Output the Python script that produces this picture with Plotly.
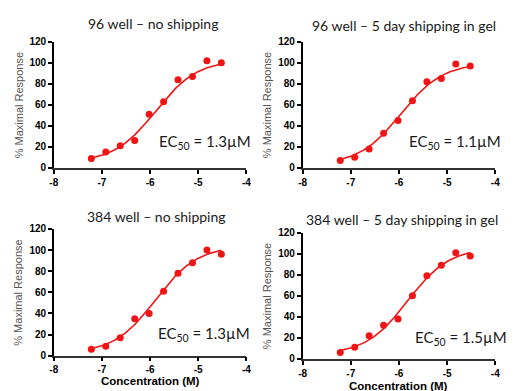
import plotly.graph_objects as go
import numpy as np

# ---- data ----
log_conc = [-7.22, -6.92, -6.62, -6.32, -6.02, -5.72, -5.42, -5.12, -4.82, -4.52]

resp_96_none = [9, 15, 21, 26, 51, 63, 84, 87, 102, 100]
resp_96_gel = [7, 10, 18, 33, 45, 64, 82, 85, 99, 97]
resp_384_none = [6, 9, 17, 35, 40, 61, 78, 88, 100, 96]
resp_384_gel = [6, 11, 22, 32, 38, 60, 79, 89, 101, 98]

titles = ["96 well – no shipping", "96 well – 5 day shipping in gel",
          "384 well – no shipping", "384 well – 5 day shipping in gel"]
ec50_um = [1.3, 1.1, 1.3, 1.5]
# fitted 4-parameter logistic: bottom, top, hill
fit_bottom = [5, 3, 2, 4]
fit_top = [103, 100, 104, 106]
fit_hill = [1.0, 1.0, 1.0, 1.0]

x_ticks = [-8, -7, -6, -5, -4]
x_ticklabels = ["-8", "-7", "-6", "-5", "-4"]
y_ticks = [0, 20, 40, 60, 80, 100, 120]

series = [resp_96_none, resp_96_gel, resp_384_none, resp_384_gel]

W, H = 515, 391
# pixel boxes (x0, x1, ybottom, ytop)
boxes = [(50.7, 246.7, 167, 37), (304, 500, 167, 37),
         (50.7, 246.7, 360.7, 230), (304, 500, 364, 234)]

RED = "#f01414"
fig = go.Figure()
tickfont = dict(family="Liberation Sans", size=10, color="black", weight="bold")

for i, (vals, box) in enumerate(zip(series, boxes)):
    n = "" if i == 0 else str(i + 1)
    x0, x1, yb, yt = box
    fig.update_layout(**{
        f"xaxis{n}": dict(domain=[x0 / W, x1 / W], anchor=f"y{n}", range=[-8, -4],
                          tickvals=x_ticks, ticktext=x_ticklabels, ticks="outside",
                          ticklen=4, tickwidth=1.5, tickcolor="black", showline=True,
                          linecolor="#333", linewidth=1.5, showgrid=False, zeroline=False,
                          tickfont=tickfont, ticklabelstandoff=0),
        f"yaxis{n}": dict(domain=[1 - yb / H, 1 - yt / H], anchor=f"x{n}", range=[0, 120],
                          tickvals=y_ticks, ticks="outside", ticklen=4, tickwidth=1.5,
                          tickcolor="black", showline=True, linecolor="black", linewidth=1.5,
                          showgrid=False, zeroline=False, tickfont=tickfont),
    })
    lx = np.array(log_conc)
    xs = np.linspace(lx.min(), lx.max(), 120)
    logec = np.log10(ec50_um[i] * 1e-6)
    ys = fit_bottom[i] + (fit_top[i] - fit_bottom[i]) / (1 + 10 ** ((logec - xs) * fit_hill[i]))
    fig.add_trace(go.Scatter(x=xs, y=ys, mode="lines", line=dict(color=RED, width=1.6),
                             xaxis=f"x{n}", yaxis=f"y{n}", showlegend=False, hoverinfo="skip"))
    fig.add_trace(go.Scatter(x=log_conc, y=vals, mode="markers",
                             marker=dict(color=RED, size=7), cliponaxis=False,
                             xaxis=f"x{n}", yaxis=f"y{n}", showlegend=False))
    # panel title
    cx = [152, 407, 155, 405][i]
    cy = [18, 20, 217, 220][i]
    fig.add_annotation(text=titles[i], x=cx / W, y=1 - cy / H, xref="paper", yref="paper",
                       showarrow=False, xanchor="center", yanchor="middle",
                       font=dict(family="Lato", size=14, color="#1a1a1a"))
    # y title
    fig.add_annotation(text="% Maximal Response", x=(x0 - 36) / W, y=1 - (yb + yt) / 2 / H,
                       xref="paper", yref="paper", textangle=-90, showarrow=False,
                       xanchor="center", yanchor="middle",
                       font=dict(family="Liberation Sans", size=11, color="#555"))
    # EC50
    ex = [253, 508, 252, 514][i]
    ey = [140, 140, 338, 343][i]
    fig.add_annotation(text=f"EC<sub>50</sub> = {ec50_um[i]}µM", x=ex / W, y=1 - ey / H,
                       xref="paper", yref="paper", showarrow=False, xanchor="right",
                       yanchor="middle", font=dict(family="Lato", size=15, color="#1a1a1a"))
    # x title for bottom panels
    if i >= 2:
        fig.add_annotation(text="<b>Concentration (M)</b>", x=(x0 + x1) / 2 / W,
                           y=1 - ([379, 384][i - 2]) / H, xref="paper", yref="paper",
                           showarrow=False, xanchor="center", yanchor="top",
                           font=dict(family="Liberation Sans", size=11.5, color="black"))

fig.update_layout(width=W, height=H, margin=dict(l=0, r=0, t=0, b=0),
                  paper_bgcolor="white", plot_bgcolor="white")
fig.write_html("out.html", config={"displayModeBar": False},
               post_script="document.body.style.margin='0';document.body.style.overflow='hidden';")
